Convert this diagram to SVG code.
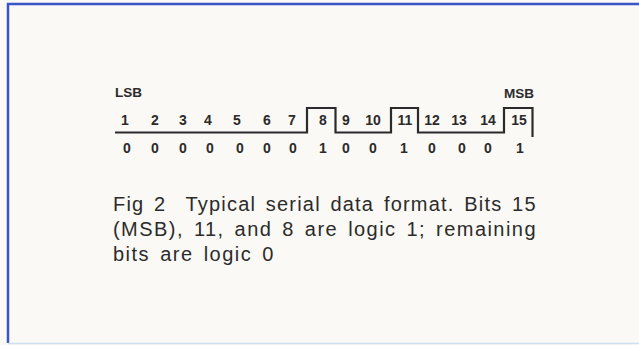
<svg xmlns="http://www.w3.org/2000/svg" width="639" height="345" viewBox="0 0 639 345">
<style>
.bg{fill:#fbf9f5}
.frame{fill:none;stroke:#3a55c8;stroke-width:2.5}
.d{font-family:"Liberation Sans",Arial,sans-serif;font-size:14px;font-weight:bold;fill:#2b2b2b;text-anchor:middle}
.lab{font-family:"Liberation Sans",Arial,sans-serif;font-size:13.5px;font-weight:bold;fill:#2b2b2b}
.cap{font-family:"Liberation Sans",Arial,sans-serif;font-size:20px;letter-spacing:1.5px;word-spacing:3px;fill:#2b2b2b}
.wave{fill:none;stroke:#2b2b2b;stroke-width:2.2;stroke-linejoin:miter}
</style>
<rect class="bg" x="0" y="0" width="639" height="345"/>
<path class="frame" d="M8,343 V4 H639"/>
<line x1="8" y1="343.5" x2="639" y2="343.5" stroke="#cfe0f5" stroke-width="1.5"/>
<g id="labels">
<text class="lab" x="115" y="97">LSB</text>
<text class="lab" x="504" y="98">MSB</text>
</g>
<g id="waveform">
<path class="wave" d="M115,132.5 H307 V108 H335.5 V132.5 H391 V108 H418 V132.5 H504 V108 H532.5 V137"/>
</g>
<g id="bit-numbers">
<text class="d" x="125" y="125">1</text>
<text class="d" x="155" y="125">2</text>
<text class="d" x="183" y="125">3</text>
<text class="d" x="208" y="125">4</text>
<text class="d" x="237" y="125">5</text>
<text class="d" x="267" y="125">6</text>
<text class="d" x="292" y="125">7</text>
<text class="d" x="323" y="125">8</text>
<text class="d" x="346" y="125">9</text>
<text class="d" x="373" y="125">10</text>
<text class="d" x="405" y="125">11</text>
<text class="d" x="432" y="125">12</text>
<text class="d" x="459" y="125">13</text>
<text class="d" x="488" y="125">14</text>
<text class="d" x="519" y="125">15</text>
</g>
<g id="bit-values">
<text class="d" x="127" y="153">0</text>
<text class="d" x="155" y="153">0</text>
<text class="d" x="183" y="153">0</text>
<text class="d" x="210" y="153">0</text>
<text class="d" x="240" y="153">0</text>
<text class="d" x="267" y="153">0</text>
<text class="d" x="293" y="153">0</text>
<text class="d" x="323" y="153">1</text>
<text class="d" x="346" y="153">0</text>
<text class="d" x="373" y="153">0</text>
<text class="d" x="404" y="153">1</text>
<text class="d" x="432" y="153">0</text>
<text class="d" x="462" y="153">0</text>
<text class="d" x="488" y="153">0</text>
<text class="d" x="520" y="153">1</text>
</g>
<g id="caption">
<text class="cap" x="113" y="211" textLength="424" lengthAdjust="spacing" xml:space="preserve">Fig 2  Typical serial data format. Bits 15</text>
<text class="cap" x="113" y="236" textLength="424" lengthAdjust="spacing">(MSB), 11, and 8 are logic 1; remaining</text>
<text class="cap" x="113" y="261">bits are logic 0</text>
</g>
</svg>
